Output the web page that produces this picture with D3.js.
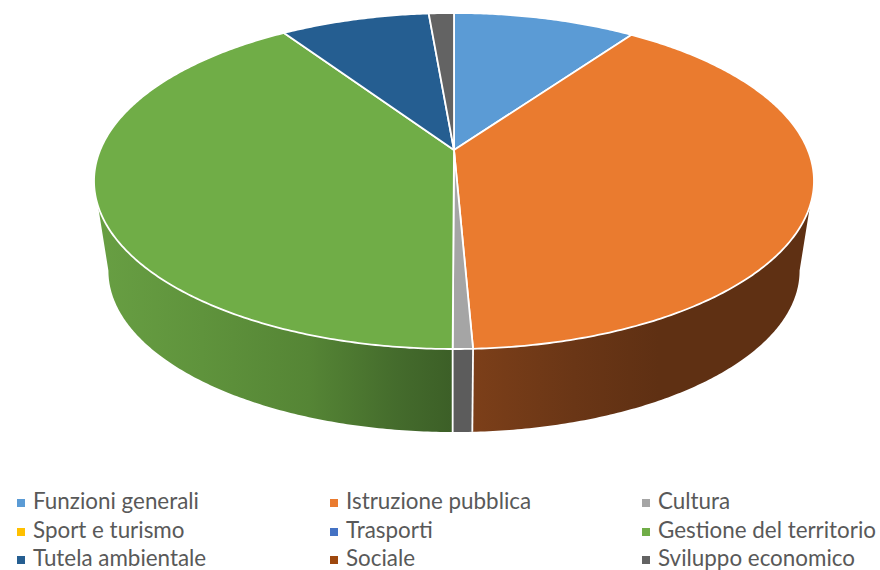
<!DOCTYPE html>
<html>
<head>
<meta charset="utf-8">
<script src="https://cdn.jsdelivr.net/npm/d3@7"></script>
<style>
  html, body { margin: 0; padding: 0; background: #fff; }
  svg { display: block; }
  .legend text { font-family: Lato, "Open Sans", sans-serif; font-size: 22.4px; fill: #595959; }
</style>
</head>
<body>
<div id="chart"></div>
<script>
const categories = ['Funzioni generali', 'Istruzione pubblica', 'Cultura', 'Sport e turismo', 'Trasporti',
    'Gestione del territorio', 'Tutela ambientale', 'Sociale', 'Sviluppo economico'];
const values = [9.8, 39.5, 0.75, 0, 0, 40.6, 8.0, 0, 1.35];
const colors = ['#5b9bd5', '#ea7b2f', '#a5a5a5', '#ffc000', '#4472c4', '#70ad47', '#255e91', '#9e480e', '#636363'];
const wallColors = ['#5b9bd5', '#ea7b2f', '#5c5c5c', '#ffc000', '#4472c4', '#70ad47', '#255e91', '#9e480e', '#636363'];

const width = 880, height = 570;

// Perspective of the pie: the centre of the slices sits above the centre of the ellipse
const apex = { x: 454, y: 150 };
const k = -0.1845, scaleX = 353.8, scaleY = 162.3;
const bottomScale = 0.96, bottomY = 241;

function rim(angle, level) {
    const x = Math.sin(angle), y = -Math.cos(angle), w = 1 + k * y;
    if (level === 'top') return [apex.x + scaleX * x / w, apex.y + scaleY * y / w];
    return [apex.x + bottomScale * scaleX * x / w, bottomY + bottomScale * scaleY * y / w];
}

function arcPoints(a0, a1, level) {
    const n = Math.max(2, Math.ceil(Math.abs(a1 - a0) / 0.01));
    return d3.range(n + 1).map(i => rim(a0 + (a1 - a0) * i / n, level));
}

const svg = d3.select('#chart').append('svg').attr('width', width).attr('height', height);
const defs = svg.append('defs');

function wallGradient(id, x1, x2, stops) {
    const g = defs.append('linearGradient').attr('id', id)
        .attr('gradientUnits', 'userSpaceOnUse')
        .attr('x1', x1).attr('x2', x2).attr('y1', 0).attr('y2', 0);
    stops.forEach(s => g.append('stop').attr('offset', s[0]).attr('stop-color', s[1]));
}
wallGradient('wall-5', 95, 452, [[0, '#689f43'], [0.3, '#5f933c'], [0.6, '#558535'], [0.85, '#446b2c'], [1, '#3c5f27']]);
wallGradient('wall-1', 472, 812, [[0, '#7c3f19'], [0.3, '#6a3616'], [0.55, '#5f3013'], [1, '#5f3013']]);

const slices = d3.pie().sort(null).value(d => d)(values);
const line = d3.line();

// Only the part of the side between the two tangent points can be seen
const wallStart = Math.acos(k);
const wallEnd = 2 * Math.PI - wallStart;

const walls = slices
    .map((s, i) => ({ i, a0: Math.max(s.startAngle, wallStart), a1: Math.min(s.endAngle, wallEnd) }))
    .filter(d => d.a1 > d.a0);

svg.append('g').selectAll('path')
    .data(walls)
    .join('path')
    .attr('d', d => line(arcPoints(d.a0, d.a1, 'top').concat(arcPoints(d.a1, d.a0, 'bottom'))) + 'Z')
    .attr('fill', d => (d.i === 1 || d.i === 5) ? `url(#wall-${d.i})` : wallColors[d.i])
    .attr('stroke', 'none');

// White seams between the side panels
svg.append('g').selectAll('path')
    .data(walls.slice(1))
    .join('path')
    .attr('d', d => line([rim(d.a0, 'top'), rim(d.a0, 'bottom')]))
    .attr('stroke', '#fff')
    .attr('stroke-width', 1.8)
    .attr('fill', 'none');

svg.append('g').selectAll('path')
    .data(slices.filter(s => s.value > 0))
    .join('path')
    .attr('d', s => line([[apex.x, apex.y]].concat(arcPoints(s.startAngle, s.endAngle, 'top'))) + 'Z')
    .attr('fill', s => colors[s.index])
    .attr('stroke', '#fff')
    .attr('stroke-width', 1.8)
    .attr('stroke-linejoin', 'round');

// Legend
const columnX = d3.scaleOrdinal().domain([0, 1, 2]).range([17, 330, 642]);
const rowY = d3.scaleOrdinal().domain([0, 1, 2]).range([503, 532, 560]);

const legend = svg.append('g').attr('class', 'legend')
    .selectAll('g')
    .data(categories)
    .join('g')
    .attr('transform', (d, i) => `translate(${columnX(i % 3)},${rowY(Math.floor(i / 3))})`);

legend.append('rect')
    .attr('x', 0).attr('y', -4).attr('width', 8).attr('height', 8)
    .attr('fill', (d, i) => colors[i]);

legend.append('text')
    .attr('x', 16)
    .attr('dy', '0.27em')
    .text(d => d);
</script>
</body>
</html>
